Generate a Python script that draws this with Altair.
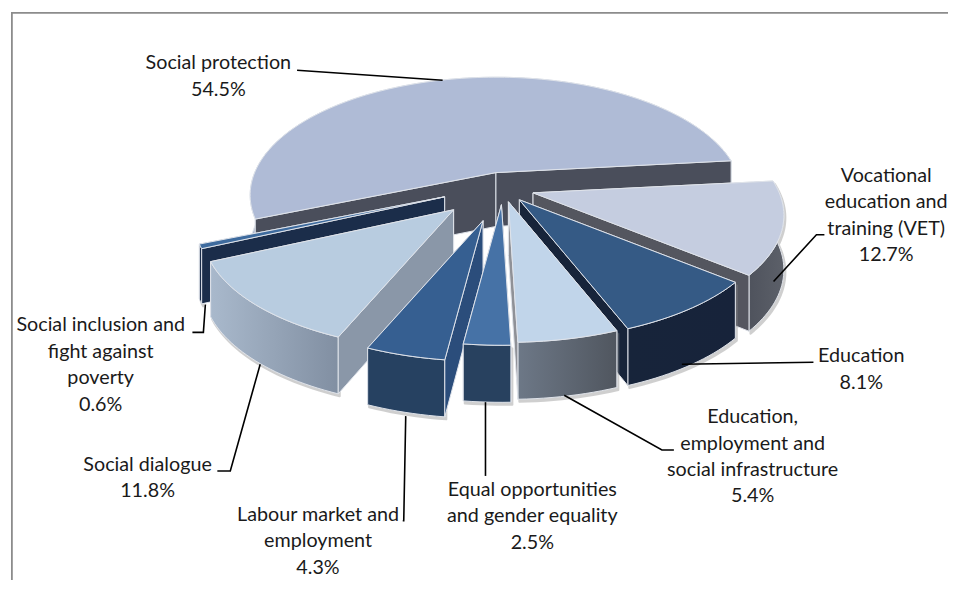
import math
import altair as alt
import pandas as pd

categories = ["Social protection", "Vocational education and training (VET)", "Education",
              "Education, employment and social infrastructure", "Equal opportunities and gender equality",
              "Labour market and employment", "Social dialogue", "Social inclusion and fight against poverty"]
values = [54.5, 12.7, 8.1, 5.4, 2.5, 4.3, 11.8, 0.6]

label_lines = [
    ["Social protection", "54.5%"],
    ["Vocational", "education and", "training (VET)", "12.7%"],
    ["Education", "8.1%"],
    ["Education,", "employment and", "social infrastructure", "5.4%"],
    ["Equal opportunities", "and gender equality", "2.5%"],
    ["Labour market and", "employment", "4.3%"],
    ["Social dialogue", "11.8%"],
    ["Social inclusion and", "fight against", "poverty", "0.6%"],
]
label_x = [218, 888, 863, 754, 533, 318, 147, 100]
label_y = [63, 176, 357, 418, 491, 516, 466, 326]
line_step = 26.5

leaders = [
    [(297, 70), (443, 80)],
    [(775, 282), (818, 235), (826, 235)],
    [(683, 365), (815, 363)],
    [(565, 396), (663, 451), (675, 451)],
    [(486, 403), (486, 477)],
    [(406, 417), (404, 522), (403, 522)],
    [(260, 365), (230, 472), (217, 472)],
    [(205, 305), (203, 333), (192, 333)],
]

tips = [(496.5, 172.7), (533.7, 193), (520, 200), (509, 202), (502, 205), (483.5, 221), (454, 210), (445, 197)]
radius_factor = [0.98, 1, 1, 1, 1, 1, 1, 1]
top_colors = ["#afbbd6", "#c5cde0", "#355a85", "#c1d5ea", "#4672a6", "#365f91", "#b8cce0", "#3e6b9e"]
face_colors = ["#4a4e5b", "#54565f", "#17243a", "#8f9197", "#28415f", "#2b4d7b", "#8a97a8", "#1b2d4a"]
wall_left = ["#a8b3c9", "#4f535d", "#17243a", "#6d7887", "#28415f", "#264161", "#a9b9cc", "#1b2d4a"]
wall_right = ["#8d99b0", "#5c6069", "#17233a", "#50565f", "#28415f", "#264161", "#818fa2", "#1b2d4a"]
draw_order = [0, 7, 6, 5, 1, 2, 4, 3]

START = -112.3
RX, RY, K = 247.0, 114.0, 0.191
EDGE = "#dfe3ea"
W, H = 940, 570
OX, OY = 10, 11.5  # page position of the chart's origin

x_scale = alt.Scale(domain=[OX, OX + W], range=[0, W], nice=False, zero=False)
y_scale = alt.Scale(domain=[OY, OY + H], range=[0, H], nice=False, zero=False)


def proj(t, tip, down=False, rf=1.0):
    a = math.radians(t)
    u, v = math.sin(a), math.cos(a)
    w = 1 + K * v
    d = 54 * (1 - 0.06 * v) if down else 0
    return (tip[0] + rf * RX * u / w, tip[1] - RY * v / w + d)


def tipdown(tip):
    return (tip[0], tip[1] + 54)


def polygon(points, fill, stroke=EDGE, sw=1.0, opacity=None):
    pts = list(points) + [points[0]]
    df = pd.DataFrame({"x": [p[0] for p in pts], "y": [p[1] for p in pts], "i": range(len(pts))})
    kw = {"opacity": opacity} if opacity is not None else {}
    return alt.Chart(df).mark_line(fill=fill, stroke=stroke, strokeWidth=sw, strokeJoin="round", **kw).encode(
        x=alt.X("x:Q", scale=x_scale, axis=None),
        y=alt.Y("y:Q", scale=y_scale, axis=None),
        order=alt.Order("i:Q"),
    )


def grad(a, b):
    return alt.LinearGradient(gradient="linear", x1=0, x2=1, y1=0, y2=0,
                              stops=[alt.GradientStop(offset=0, color=a), alt.GradientStop(offset=1, color=b)])


layers = []
bounds = []
cur = START
for val in values:
    bounds.append((cur, cur + val * 3.6))
    cur += val * 3.6

for idx in draw_order:
    t0, t1 = bounds[idx]
    tip = tips[idx]
    rf = radius_factor[idx]
    n = max(2, int((t1 - t0) / 1.5))
    ts = [t0 + (t1 - t0) * i / n for i in range(n + 1)]
    top_arc = [proj(t, tip, False, rf) for t in ts]
    low_arc = [proj(t, tip, True, rf) for t in ts]
    wall = top_arc + low_arc[::-1]
    face_s = [tip, top_arc[0], low_arc[0], tipdown(tip)]
    face_e = [tip, top_arc[-1], low_arc[-1], tipdown(tip)]
    start_vis = (t0 % 360) > 180
    end_vis = (t1 % 360) < 180
    # soft shadow
    if idx != 0:
        layers.append(polygon([(p[0] + 1.5, p[1] + 2.5) for p in wall], "#8a8a8a", "#8a8a8a", 2, 0.4))
    if not start_vis:
        layers.append(polygon(face_s, face_colors[idx]))
    if not end_vis:
        layers.append(polygon(face_e, face_colors[idx]))
    layers.append(polygon(wall, grad(wall_left[idx], wall_right[idx])))
    if start_vis:
        layers.append(polygon(face_s, face_colors[idx]))
    if end_vis:
        layers.append(polygon(face_e, face_colors[idx]))
    layers.append(polygon([tip] + top_arc, top_colors[idx]))

# frame
frame = pd.DataFrame({"x": [OX + 0.9, OX + 0.9, OX + W], "y": [OY + H, OY + 0.9, OY + 0.9], "i": [0, 1, 2]})
layers.append(alt.Chart(frame).mark_line(stroke="#8c8c8c", strokeWidth=1.8).encode(
    x=alt.X("x:Q", scale=x_scale, axis=None), y=alt.Y("y:Q", scale=y_scale, axis=None), order="i:Q"))

# leaders
rows = []
for li, pts in enumerate(leaders):
    for j, p in enumerate(pts):
        rows.append({"x": p[0], "y": p[1], "g": li, "i": j})
layers.append(alt.Chart(pd.DataFrame(rows)).mark_line(stroke="#000000", strokeWidth=1.6).encode(
    x=alt.X("x:Q", scale=x_scale, axis=None), y=alt.Y("y:Q", scale=y_scale, axis=None),
    detail="g:N", order="i:Q"))

# labels
rows = []
for lines, lx, ly in zip(label_lines, label_x, label_y):
    for j, s in enumerate(lines):
        rows.append({"x": lx, "y": ly + j * line_step, "t": s})
layers.append(alt.Chart(pd.DataFrame(rows)).mark_text(
    font="Lato", fontSize=19.8, color="#1a1a1a", align="center", baseline="middle").encode(
    x=alt.X("x:Q", scale=x_scale, axis=None), y=alt.Y("y:Q", scale=y_scale, axis=None), text="t:N"))

chart = alt.layer(*layers).properties(width=W, height=H, padding=0, background="#ffffff").configure_view(stroke=None)
chart.save("out.html", embed_options={"renderer": "svg", "actions": False})
